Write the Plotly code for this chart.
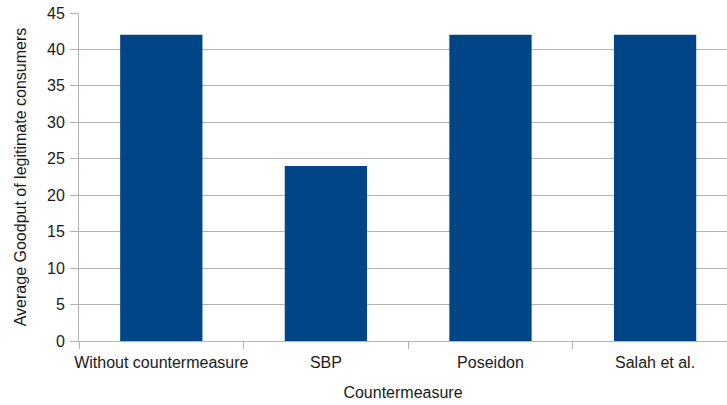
import plotly.graph_objects as go

categories = ["Without countermeasure", "SBP", "Poseidon", "Salah et al."]
goodput = [42, 24, 42, 42]
y_ticks = [0, 5, 10, 15, 20, 25, 30, 35, 40, 45]

font = "Liberation Sans, Arial, sans-serif"
grid = "#b3b3b3"

fig = go.Figure(go.Bar(
    x=categories, y=goodput, width=0.5,
    marker=dict(color="#004586", line=dict(width=0)),
))

fig.update_layout(
    width=727, height=405,
    margin=dict(l=79, r=0, t=13, b=64),
    paper_bgcolor="white", plot_bgcolor="white",
    font=dict(family=font, size=16, color="#1a1a1a"),
    showlegend=False,
)
fig.update_xaxes(
    type="category",
    range=[-0.5, 3.437],
    tickson="boundaries",
    tickangle=0,
    automargin=False,
    ticklabeloverflow="allow",
    ticks="outside", ticklen=7, tickcolor=grid, tickwidth=1,
    ticklabelstandoff=7,
    showline=True, linecolor=grid, linewidth=1,
    showgrid=False,
    tickfont=dict(size=16),
    title=dict(text="Countermeasure", font=dict(size=16), standoff=16),
)
fig.update_yaxes(
    range=[0, 45],
    tickvals=y_ticks,
    automargin=False,
    ticklabeloverflow="allow",
    ticks="outside", ticklen=8, tickcolor=grid, tickwidth=1,
    ticklabelstandoff=2,
    showline=True, linecolor=grid, linewidth=1,
    showgrid=True, gridcolor=grid, gridwidth=1,
    zeroline=False,
    tickfont=dict(size=16),
    title=dict(text="Average Goodput of legitimate consumers", font=dict(size=16), standoff=16),
)

fig.write_html(
    "out.html",
    config={"displayModeBar": False},
    post_script="document.body.style.margin='0';",
)
